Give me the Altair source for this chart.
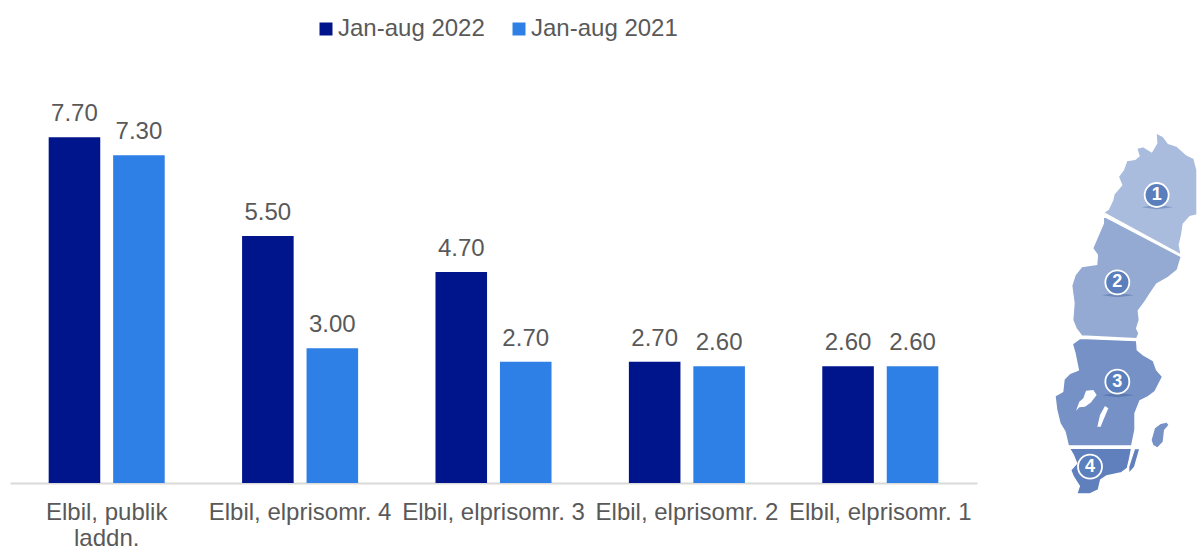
import altair as alt
import pandas as pd

FONT = "Liberation Sans"
TEXT = "#595959"

categories = ["Elbil, publik laddn.", "Elbil, elprisomr. 4", "Elbil, elprisomr. 3",
              "Elbil, elprisomr. 2", "Elbil, elprisomr. 1"]
series_names = ["Jan-aug 2022", "Jan-aug 2021"]
values_2022 = [7.70, 5.50, 4.70, 2.70, 2.60]
values_2021 = [7.30, 3.00, 2.70, 2.60, 2.60]
series_colors = ["#00148C", "#2E80E6"]

# Outline of Sweden's four price areas, in map units
area_1 = [[190, 278], [205, 268], [218, 240], [222, 222], [245, 195], [235, 170], [250, 150],
          [260, 122], [285, 118], [297, 108], [290, 85], [310, 80], [335, 95], [350, 70],
          [348, 38], [370, 50], [385, 70], [410, 78], [440, 105], [462, 115], [471, 150],
          [471, 285], [450, 290], [430, 312], [425, 345], [418, 375], [424, 405]]
area_2 = [[190, 288], [424, 410], [412, 450], [385, 472], [350, 492], [330, 522], [315, 545],
          [295, 572], [298, 600], [290, 625], [297, 640], [290, 656], [125, 648], [108, 625],
          [98, 600], [102, 550], [95, 497], [105, 465], [125, 440], [170, 433], [172, 405],
          [158, 385], [175, 345], [190, 310]]
area_3 = [[120, 655], [290, 662], [292, 690], [310, 705], [340, 722], [350, 750], [368, 770],
          [355, 795], [345, 815], [325, 830], [300, 842], [285, 880], [285, 930], [275, 978],
          [85, 978], [75, 935], [60, 910], [50, 870], [45, 828], [68, 815], [72, 778],
          [90, 760], [115, 750], [105, 700], [97, 672]]
area_4 = [[88, 985], [275, 985], [268, 1020], [262, 1045], [245, 1058], [200, 1068],
          [182, 1080], [175, 1110], [150, 1122], [110, 1122], [118, 1098], [100, 1070],
          [92, 1050], [110, 1030], [100, 1005]]
gotland = [[335, 960], [345, 925], [362, 912], [380, 908], [385, 915], [372, 930], [368, 965],
           [352, 982], [340, 975]]
oland = [[285, 988], [297, 988], [282, 1040], [268, 1056], [268, 1040]]
vanern = [[108, 872], [118, 845], [130, 835], [138, 812], [160, 810], [170, 825], [152, 848],
          [135, 860], [118, 862]]
vattern = [[172, 920], [180, 885], [195, 858], [205, 865], [190, 900], [182, 920]]
map_fills = ["#A9BCDD", "#94AAD2", "#7591C6", "#5F80BD"]

badge_labels = ["1", "2", "3", "4"]
badge_x = [350, 232, 232, 150]
badge_y = [225, 487, 785, 1040]

shadow_1 = [[305, 262], [350, 254], [400, 262], [350, 268]]
shadow_2 = [[187, 526], [232, 518], [282, 526], [232, 532]]
shadow_3 = [[187, 826], [232, 818], [282, 826], [232, 832]]

bars = pd.DataFrame({
    "category": categories * 2,
    "series": [series_names[0]] * 5 + [series_names[1]] * 5,
    "value": values_2022 + values_2021,
})

x_enc = alt.X(
    "category:N", sort=categories, title=None,
    scale=alt.Scale(paddingInner=0.4, paddingOuter=0.2),
    axis=alt.Axis(
        labelAngle=0, labelFont=FONT, labelFontSize=24, labelColor=TEXT, ticks=False,
        labelPadding=17, labelLineHeight=26, labelLimit=0,
        domainColor="#D9D9D9", domainWidth=2, grid=False,
        labelExpr="datum.label == 'Elbil, publik laddn.' ? ['Elbil, publik', 'laddn.'] : datum.label",
    ),
)
y_enc = alt.Y("value:Q", axis=None, scale=alt.Scale(domain=[0, 10.757], nice=False))
offset_enc = alt.XOffset("series:N", sort=series_names, scale=alt.Scale(paddingInner=0.2, paddingOuter=0))

bar_layer = alt.Chart(bars).mark_bar().encode(
    x=x_enc, y=y_enc, xOffset=offset_enc,
    color=alt.Color(
        "series:N", sort=series_names,
        scale=alt.Scale(domain=series_names, range=series_colors),
        legend=alt.Legend(
            title=None, orient="none", legendX=304, legendY=17, direction="horizontal",
            symbolType="square", symbolSize=169, symbolStrokeWidth=0, labelFont=FONT,
            labelFontSize=24, labelColor=TEXT, labelOffset=0, columnPadding=22,
            labelLimit=0,
        ),
    ),
)
label_layer = alt.Chart(bars).mark_text(
    baseline="bottom", dy=-11, font=FONT, fontSize=24, color=TEXT
).encode(x=x_enc, y=y_enc, xOffset=offset_enc, text=alt.Text("value:Q", format=".2f"))

MAP_VIEW = dict(type="identity", scale=1 / 3, translate=[1030, 120])


def polygon(points, fill, stroke=None):
    """One filled outline drawn through the shared map projection."""
    ring = points + [points[0]]
    data = alt.InlineData(
        values={"type": "FeatureCollection",
                "features": [{"type": "Feature", "properties": {},
                              "geometry": {"type": "Polygon", "coordinates": [ring]}}]},
        format=alt.DataFormat(property="features", type="json"),
    )
    style = {"fill": fill, "strokeWidth": 1.4 if stroke else 0, "clip": False}
    if stroke:
        style["stroke"] = stroke
    return alt.Chart(data).mark_geoshape(**style).project(**MAP_VIEW)


map_layers = [
    polygon(area_1, map_fills[0], "#FFFFFF"),
    polygon(area_2, map_fills[1], "#FFFFFF"),
    polygon(area_3, map_fills[2], "#FFFFFF"),
    polygon(area_4, map_fills[3], "#FFFFFF"),
    polygon(gotland, map_fills[2]),
    polygon(oland, map_fills[3]),
    polygon(vanern, "#FFFFFF"),
    polygon(vattern, "#FFFFFF"),
    polygon(shadow_1, "#7F97C5"),
    polygon(shadow_2, "#6F89BC"),
    polygon(shadow_3, "#5C79B0"),
]

badges = pd.DataFrame({"label": badge_labels, "lon": badge_x, "lat": badge_y})
badge_circles = alt.Chart(badges).mark_point(
    filled=True, size=576, fill="#5B7FBD", stroke="#FFFFFF", strokeWidth=1.8, opacity=1, clip=False
).encode(longitude="lon:Q", latitude="lat:Q").project(**MAP_VIEW)
badge_text = alt.Chart(badges).mark_text(
    font=FONT, fontSize=18, fontWeight="bold", color="#FFFFFF", baseline="middle", clip=False
).encode(longitude="lon:Q", latitude="lat:Q", text="label:N").project(**MAP_VIEW)

chart = alt.layer(bar_layer, label_layer, *map_layers, badge_circles, badge_text).properties(
    width=967, height=483,
    padding={"left": 10, "right": 220, "top": 0, "bottom": 64},
    autosize=alt.AutoSizeParams(type="none"),
    background="#FFFFFF",
).configure_view(stroke=None)

chart.save("out.html", embed_options={"renderer": "svg", "actions": False})
